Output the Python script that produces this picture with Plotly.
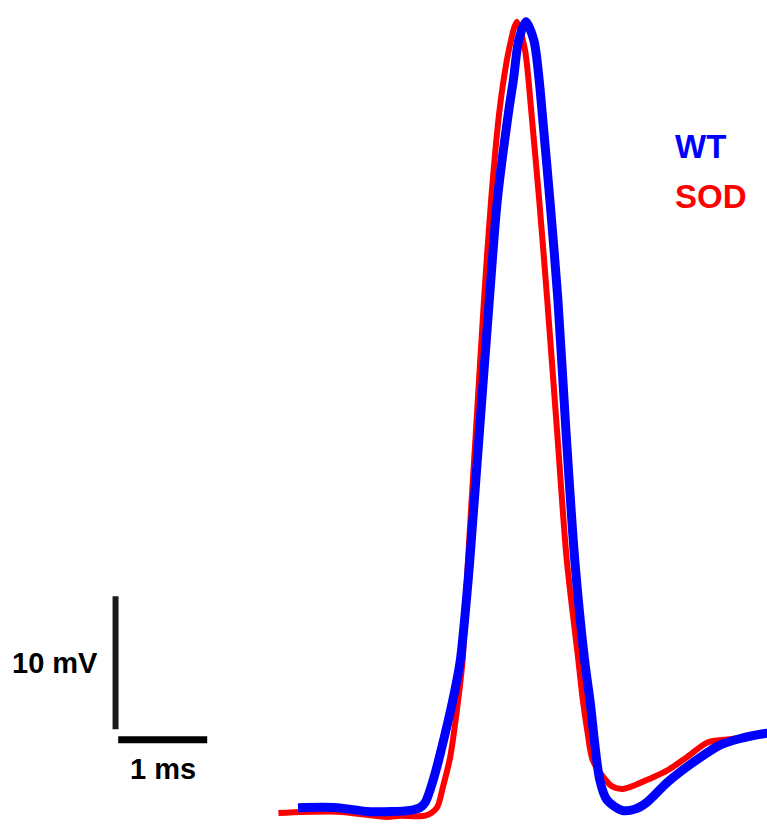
import plotly.graph_objects as go

# Time (ms) and membrane potential (mV)
wt_t = [0.00, 0.44, 0.81, 1.26, 1.37, 1.43, 1.52, 1.60, 1.74, 1.82, 1.88, 1.93,
        2.04, 2.15, 2.24, 2.37, 2.42, 2.48, 2.56, 2.65, 2.71, 2.74, 2.83, 2.92, 3.01,
        3.11, 3.22, 3.28, 3.39, 3.47, 3.64, 3.79, 3.92, 4.15, 4.44, 4.74, 4.97,
        5.27, 5.40]
wt_v = [-69.9, -69.9, -70.2, -70.1, -69.9, -69.5, -67.8, -65.8, -61.8, -59.0,
        -55.2, -51.3, -41.5, -31.7, -24.2, -17.4, -15.2, -12.2, -10.8, -12.2, -15.2,
        -17.4, -24.2, -31.7, -41.5, -51.3, -58.8, -61.8, -67.8, -69.3, -70.1,
        -70.0, -69.5, -68.0, -66.5, -65.2, -64.7, -64.3, -64.2]

sod_t = [-0.22, 0.44, 1.00, 1.15, 1.43, 1.56, 1.63, 1.71, 1.80, 1.85, 1.91, 2.00,
         2.09, 2.17, 2.26, 2.31, 2.37, 2.46, 2.55, 2.59, 2.61, 2.71, 2.80, 2.91, 3.02,
         3.15, 3.20, 3.25, 3.31, 3.43, 3.53, 3.65, 3.96, 4.15, 4.37, 4.60, 4.78, 5.02, 5.27]
sod_v = [-70.3, -70.2, -70.6, -70.5, -70.5, -69.9, -68.3, -66.1, -61.8, -58.8,
         -51.3, -41.5, -31.7, -24.2, -17.7, -15.2, -12.9, -10.8, -12.9, -15.2, -16.7,
         -24.2, -31.7, -41.5, -51.3, -58.8, -61.8, -64.1, -66.3, -67.6, -68.3, -68.5,
         -67.7, -67.1, -66.1, -65.0, -64.8, -64.6, -64.3]

labels = ["WT", "SOD"]
colors = ["#0000FF", "#FF0000"]

# scale bar: 1 ms, 10 mV
bar_ms = 1.0
bar_mv = 10.0
bar_x0 = -2.05
bar_y0 = -64.8

fig = go.Figure()
fig.add_trace(go.Scatter(x=sod_t, y=sod_v, mode="lines", name=labels[1],
                         line=dict(color=colors[1], width=6, shape="spline", smoothing=0.8)))
fig.add_trace(go.Scatter(x=wt_t, y=wt_v, mode="lines", name=labels[0],
                         line=dict(color=colors[0], width=9, shape="spline", smoothing=0.8)))

# scale bars
fig.add_trace(go.Scatter(x=[bar_x0, bar_x0], y=[bar_y0 + 0.8, bar_y0 + 0.8 + bar_mv],
                         mode="lines", line=dict(color="#1a1a1a", width=6), hoverinfo="skip"))
fig.add_trace(go.Scatter(x=[bar_x0 + 0.03, bar_x0 + 0.03 + bar_ms], y=[bar_y0, bar_y0],
                         mode="lines", line=dict(color="#000000", width=7), hoverinfo="skip"))

font = "Liberation Sans, Arial, sans-serif"
fig.add_annotation(x=bar_x0 - 0.18, y=bar_y0 + 0.8 + bar_mv / 2, xref="x", yref="y",
                   text="<b>10 mV</b>", showarrow=False, xanchor="right", yanchor="middle",
                   font=dict(family=font, size=29, color="#000000"))
fig.add_annotation(x=bar_x0 + 0.03 + bar_ms / 2, y=bar_y0 - 2.2, xref="x", yref="y",
                   text="<b>1 ms</b>", showarrow=False, xanchor="center", yanchor="middle",
                   font=dict(family=font, size=29, color="#000000"))

fig.add_annotation(x=673 / 767, y=1 - 146 / 824, xref="paper", yref="paper",
                   text="<b>" + labels[0] + "</b>", showarrow=False, xanchor="left",
                   yanchor="middle", font=dict(family=font, size=33, color=colors[0]))
fig.add_annotation(x=673 / 767, y=1 - 196 / 824, xref="paper", yref="paper",
                   text="<b>" + labels[1] + "</b>", showarrow=False, xanchor="left",
                   yanchor="middle", font=dict(family=font, size=33, color=colors[1]))

fig.update_layout(
    width=767, height=824,
    margin=dict(l=0, r=0, t=0, b=0),
    paper_bgcolor="white", plot_bgcolor="white",
    showlegend=False,
    xaxis=dict(range=[-298 / 89, 469 / 89], visible=False, fixedrange=True),
    yaxis=dict(range=[-15 / 13.3 - 70, 809 / 13.3 - 70], visible=False, fixedrange=True),
)

fig.write_html("out.html")
